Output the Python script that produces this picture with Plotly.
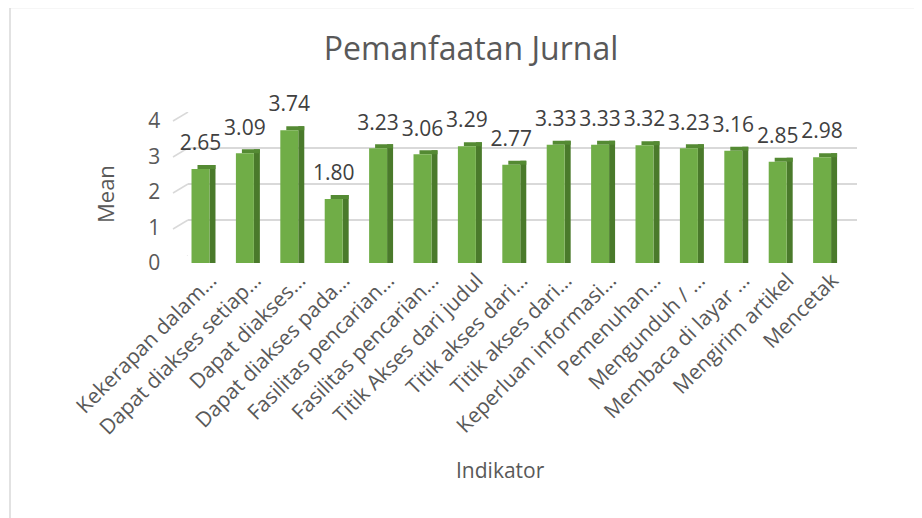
import plotly.graph_objects as go

categories = [
    "Kekerapan dalam…", "Dapat diakses setiap…", "Dapat diakses…", "Dapat diakses pada…",
    "Fasilitas pencarian…", "Fasilitas pencarian…", "Titik Akses dari judul", "Titik akses dari…",
    "Titik akses dari…", "Keperluan informasi…", "Pemenuhan…", "Mengunduh / …",
    "Membaca di layar …", "Mengirim artikel", "Mencetak",
]
values = [2.65, 3.09, 3.74, 1.80, 3.23, 3.06, 3.29, 2.77, 3.33, 3.33, 3.32, 3.23, 3.16, 2.85, 2.98]
y_ticks = [0, 1, 2, 3, 4]

FONT = "Open Sans"
GREEN = "#70AD47"
SIDE = "#4A7A2B"
TOP = "#548A33"
TXT = "#595959"

x_idx = list(range(len(categories)))
depth = 0.113
labels = [f"{v:.2f}" for v in values]

# page offset of the figure (default body margin of the html page)
OFF = 8
FW, FH = 922 - OFF, 518 - OFF
# plot area in page pixels
PL, PR, PT, PB = 170, 862, 100, 268
L, R, T, B = PL - OFF, FW - (PR - OFF), PT - OFF, FH - (PB - OFF)
W = PR - PL
H = PB - PT

def px_x(p):
    return (p - PL) / W

def px_y(p):
    return (PB - p) / H

fig = go.Figure()

# invisible trace to activate the back-plane (grid) axes
fig.add_trace(go.Scatter(x=x_idx, y=values, mode="markers", marker=dict(opacity=0),
                         hoverinfo="skip", showlegend=False, xaxis="x", yaxis="y"))

# 3D-like bars: side, top, front
fig.add_trace(go.Bar(x=x_idx, y=[v + depth for v in values], base=0, width=0.135, offset=0.2025,
                     marker=dict(color=SIDE, line=dict(width=0)), showlegend=False,
                     hoverinfo="skip", xaxis="x2", yaxis="y2"))
fig.add_trace(go.Bar(x=x_idx, y=[depth] * len(values), base=values, width=0.405, offset=-0.0675,
                     marker=dict(color=TOP, line=dict(width=0)), showlegend=False,
                     hoverinfo="skip", xaxis="x2", yaxis="y2"))
fig.add_trace(go.Bar(x=x_idx, y=values, width=0.405, offset=-0.2025,
                     marker=dict(color=GREEN, line=dict(width=0)), showlegend=False,
                     name="Mean", xaxis="x2", yaxis="y2"))
# data labels
fig.add_trace(go.Scatter(x=x_idx, y=values, mode="markers+text", text=labels,
                         textposition="top center", cliponaxis=False,
                         marker=dict(size=20, opacity=0),
                         textfont=dict(family=FONT, size=21, color="#404040"),
                         hoverinfo="skip", showlegend=False, xaxis="x2", yaxis="y2"))

# slanted connectors of the gridlines (floor/wall perspective)
for v in y_ticks:
    fig.add_shape(type="line", xref="paper", yref="y",
                  x0=px_x(173), x1=px_x(188), y0=v - 0.25, y1=v,
                  line=dict(color="#D9D9D9", width=1.5), layer="below")

# outer chart frame
fig.add_shape(type="rect", xref="paper", yref="paper",
              x0=px_x(10), x1=px_x(960), y0=px_y(560), y1=px_y(7.5),
              line=dict(color="#D9D9D9", width=1.5), fillcolor="rgba(0,0,0,0)")

fig.update_layout(
    width=FW, height=FH,
    margin=dict(l=L, r=R, t=T, b=B),
    paper_bgcolor="white", plot_bgcolor="rgba(0,0,0,0)",
    barmode="overlay",
    font=dict(family=FONT, color=TXT),
    title=dict(text="Pemanfaatan Jurnal", x=(471 - OFF) / FW, xanchor="center",
               y=1 - (49 - OFF) / FH, yanchor="middle",
               font=dict(family=FONT, size=32, color=TXT)),
    xaxis=dict(domain=[px_x(188), px_x(857)], range=[-0.5, 14.5], visible=False,
               anchor="y", fixedrange=True),
    yaxis=dict(domain=[px_y(256), px_y(112)], range=[0, 4], tickvals=y_ticks,
               showticklabels=False, showgrid=True, gridcolor="#D9D9D9", gridwidth=1.5,
               zeroline=False, anchor="x", showline=False),
    xaxis2=dict(domain=[px_x(178.3), px_x(844.3)], range=[-0.5, 14.5], anchor="y2",
                tickmode="array", tickvals=x_idx, ticktext=categories, tickangle=-45,
                tickfont=dict(family=FONT, size=21, color=TXT),
                showgrid=False, zeroline=False, showline=False, ticks="",
                ticklabelshift=10, ticklabelstandoff=0),
    yaxis2=dict(domain=[px_y(263), px_y(121)], range=[0, 4], anchor="x2",
                tickvals=y_ticks, tickfont=dict(family=FONT, size=21, color=TXT),
                showgrid=False, zeroline=False, showline=False, ticks="",
                ticklabelstandoff=17),
    annotations=[
        dict(text="Mean", xref="paper", yref="paper", x=px_x(105), y=px_y(194),
             showarrow=False, textangle=-90, xanchor="center", yanchor="middle",
             font=dict(family=FONT, size=22, color=TXT)),
        dict(text="Indikator", xref="paper", yref="paper", x=px_x(500), y=px_y(470),
             showarrow=False, xanchor="center", yanchor="middle",
             font=dict(family=FONT, size=21, color=TXT)),
    ],
)

fig.write_html("out.html")
